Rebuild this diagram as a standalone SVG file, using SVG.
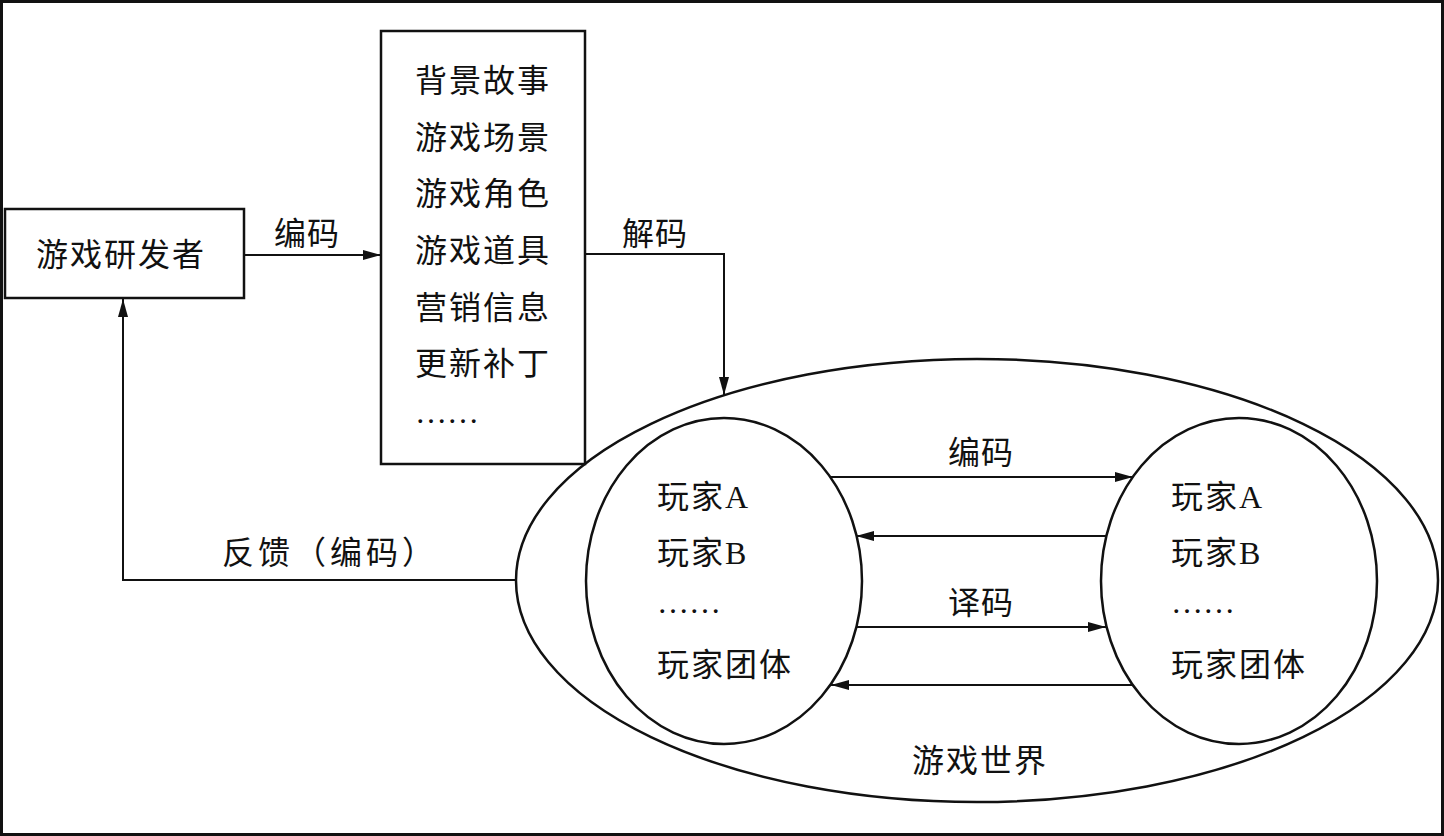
<svg xmlns="http://www.w3.org/2000/svg" width="1444" height="836" viewBox="0 0 1444 836">
<style>
.t{font-family:"Liberation Serif","Noto Sans CJK SC",serif;font-size:32px;fill:#111;}
.ls{letter-spacing:2px;}
.shape{fill:#fff;stroke:#111;stroke-width:2.5;}
.ln{fill:none;stroke:#111;stroke-width:2;}
</style>
<defs>
<marker id="arr" markerUnits="userSpaceOnUse" markerWidth="20" markerHeight="12" refX="18" refY="5" orient="auto">
<path d="M0,0 L18,5 L0,10 Z" fill="#111"/>
</marker>
</defs>
<rect x="0" y="0" width="1444" height="836" fill="#fff"/>
<rect x="1.5" y="1.5" width="1441" height="833" fill="none" stroke="#111" stroke-width="3"/>

<g id="game-world">
<ellipse class="shape" cx="977" cy="580.5" rx="461" ry="221.5"/>
<text class="t ls" x="980" y="772" text-anchor="middle">游戏世界</text>
</g>

<g id="developer">
<rect class="shape" x="5" y="209" width="239" height="89"/>
<text class="t ls" x="121" y="266" text-anchor="middle">游戏研发者</text>
</g>

<g id="content">
<rect class="shape" x="381" y="31" width="204" height="433"/>
<text class="t ls" x="415" y="92">背景故事</text>
<text class="t ls" x="415" y="149">游戏场景</text>
<text class="t ls" x="415" y="205">游戏角色</text>
<text class="t ls" x="415" y="262">游戏道具</text>
<text class="t ls" x="415" y="319">营销信息</text>
<text class="t ls" x="415" y="375">更新补丁</text>
<text class="t" x="415" y="423">……</text>
</g>

<g id="players-left">
<ellipse class="shape" cx="724" cy="581" rx="138" ry="163"/>
<text class="t ls" x="657" y="508">玩家A</text>
<text class="t ls" x="657" y="564">玩家B</text>
<text class="t" x="657" y="613">……</text>
<text class="t ls" x="657" y="676">玩家团体</text>
</g>

<g id="players-right">
<ellipse class="shape" cx="1239" cy="581" rx="138" ry="163"/>
<text class="t ls" x="1171" y="508">玩家A</text>
<text class="t ls" x="1171" y="564">玩家B</text>
<text class="t" x="1171" y="613">……</text>
<text class="t ls" x="1171" y="676">玩家团体</text>
</g>

<g id="connectors">
<path class="ln" d="M244,255 H381" marker-end="url(#arr)"/>
<text class="t" x="307" y="245" text-anchor="middle" letter-spacing="1">编码</text>
<path class="ln" d="M585,254 H724 V395" marker-end="url(#arr)"/>
<text class="t" x="655" y="245" text-anchor="middle" letter-spacing="1">解码</text>
<path class="ln" d="M516,580 H123 V299" marker-end="url(#arr)"/>
<text class="t" x="222" y="564" letter-spacing="4">反馈（编码）</text>
<path class="ln" d="M830,477 H1133" marker-end="url(#arr)"/>
<text class="t" x="981" y="464" text-anchor="middle" letter-spacing="1">编码</text>
<path class="ln" d="M1106,536 H856" marker-end="url(#arr)"/>
<path class="ln" d="M856,627 H1106" marker-end="url(#arr)"/>
<text class="t" x="981" y="614" text-anchor="middle" letter-spacing="1">译码</text>
<path class="ln" d="M1132,685 H831" marker-end="url(#arr)"/>
</g>
</svg>
